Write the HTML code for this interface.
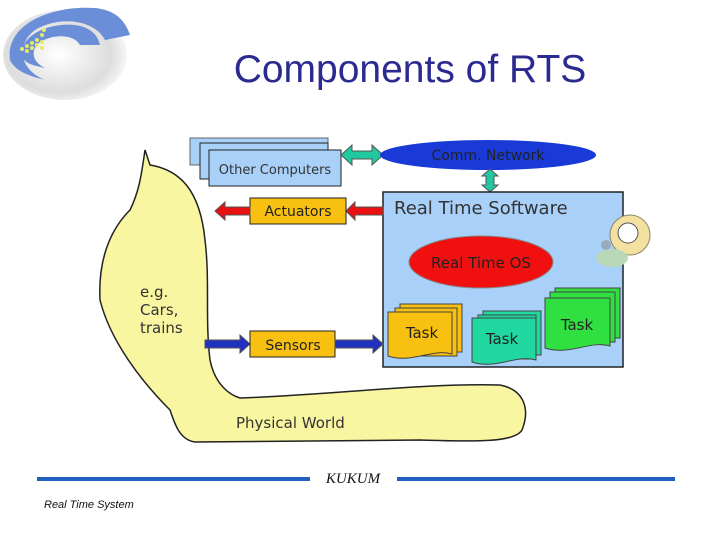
<!DOCTYPE html>
<html><head><meta charset="utf-8"><style>
html,body{margin:0;padding:0;background:#fff;width:720px;height:540px;overflow:hidden}
svg{display:block}
text{font-family:"DejaVu Sans","Liberation Sans",sans-serif}
</style></head><body>
<svg width="720" height="540" viewBox="0 0 720 540" xmlns="http://www.w3.org/2000/svg">
<defs>
<radialGradient id="lg" cx="0.45" cy="0.5" r="0.6"><stop offset="0" stop-color="#fff"/><stop offset="0.7" stop-color="#ddd"/><stop offset="1" stop-color="#fff"/></radialGradient>
</defs>
<!-- logo -->
<ellipse cx="65" cy="55" rx="62" ry="45" fill="url(#lg)"/>
<path d="M10,60 C5,25 50,5 95,8 C115,10 125,20 130,35 L105,40 C95,20 60,15 35,30 C15,45 20,70 45,80 C25,75 15,70 10,60Z" fill="#6a8fd8"/>
<path d="M22,55 C20,35 50,22 75,25 C90,27 98,35 100,45 L80,45 C75,35 55,33 40,42 C30,50 32,62 45,68 C30,65 23,62 22,55Z" fill="#6a8fd8"/>
<g fill="#e8e86a"><circle cx="22" cy="49" r="2"/><circle cx="27" cy="46" r="2"/><circle cx="32" cy="43" r="2"/><circle cx="37" cy="40" r="2"/><circle cx="42" cy="35" r="2"/><circle cx="27" cy="51" r="2"/><circle cx="32" cy="48" r="2"/><circle cx="37" cy="45" r="2"/><circle cx="42" cy="42" r="2"/><circle cx="42" cy="48" r="2"/><circle cx="44" cy="30" r="2"/></g>
<text x="410" y="82" font-size="39" text-anchor="middle" fill="#2a2a90" style="font-family:'Liberation Sans',sans-serif">Components of RTS</text>
<!-- yellow world -->
<path d="M145,150 L150,165 C180,170 200,190 205,240 C210,280 205,320 210,360 C215,385 230,395 240,398 C330,395 420,383 500,385 C525,390 530,410 522,430 C515,442 480,442 420,440 L195,442 C180,440 175,425 170,410 C140,380 110,340 100,300 C98,260 110,230 130,210 C140,190 142,170 145,150Z" fill="#f8f6a0" stroke="#222" stroke-width="1.5"/>
<text x="140" y="297" font-size="15" fill="#333">e.g.</text>
<text x="140" y="315" font-size="15" fill="#333">Cars,</text>
<text x="140" y="333" font-size="15" fill="#333">trains</text>
<text x="236" y="428" font-size="15" fill="#333">Physical World</text>
<!-- other computers -->
<rect x="190" y="138" width="138" height="27" fill="#a8d0f8" stroke="#666"/>
<rect x="200" y="143" width="128" height="36" fill="#a8d0f8" stroke="#222"/>
<rect x="209" y="150" width="132" height="36" fill="#a8d0f8" stroke="#222"/>
<text x="275" y="174" font-size="13" text-anchor="middle" fill="#333">Other Computers</text>
<!-- horizontal green double arrow -->
<path d="M341,155 L352,145 L352,151 L372,151 L372,145 L383,155 L372,165 L372,159 L352,159 L352,165Z" fill="#22c8a0" stroke="#555"/>
<ellipse cx="488" cy="155" rx="108" ry="15" fill="#1a3ad8"/>
<text x="488" y="160" font-size="14" text-anchor="middle" fill="#222">Comm. Network</text>
<!-- vertical green double arrow -->
<path d="M490,169 L498,176 L494,176 L494,185 L498,185 L490,192 L482,185 L486,185 L486,176 L482,176Z" fill="#22c8a0" stroke="#555"/>
<!-- RTS box -->
<rect x="383" y="192" width="240" height="175" fill="#a8d0f8" stroke="#222" stroke-width="1.5"/>
<text x="394" y="214" font-size="18" fill="#333">Real Time Software</text>
<ellipse cx="481" cy="262" rx="72" ry="26" fill="#f01010" stroke="#888"/>
<text x="481" y="268" font-size="15" text-anchor="middle" fill="#222">Real Time OS</text>
<!-- tasks -->
<g stroke="#444">
<path d="M400,304 h62 v48 h-62z" fill="#f8c010"/>
<path d="M395,308 h62 v48 h-62z" fill="#f8c010"/>
<path d="M388,312 h64 v42 c-20,-6 -40,10 -64,2z" fill="#f8c010"/>
<path d="M483,311 h58 v44 h-58z" fill="#20d8a0"/>
<path d="M478,315 h58 v44 h-58z" fill="#20d8a0"/>
<path d="M472,318 h64 v42 c-20,-6 -40,10 -64,2z" fill="#20d8a0"/>
<path d="M555,288 h65 v50 h-65z" fill="#30e040"/>
<path d="M550,292 h65 v50 h-65z" fill="#30e040"/>
<path d="M545,298 h65 v48 c-20,-6 -40,10 -65,2z" fill="#30e040"/>
</g>
<text x="422" y="338" font-size="15" text-anchor="middle" fill="#222">Task</text>
<text x="502" y="344" font-size="15" text-anchor="middle" fill="#222">Task</text>
<text x="577" y="330" font-size="15" text-anchor="middle" fill="#222">Task</text>
<!-- clip art -->
<circle cx="630" cy="235" r="20" fill="#f4e0a0" stroke="#886" />
<circle cx="628" cy="233" r="10" fill="#fff" stroke="#555"/>
<ellipse cx="612" cy="258" rx="16" ry="9" fill="#b8d8b8"/>
<circle cx="606" cy="245" r="5" fill="#9ab" />
<!-- actuators -->
<path d="M383,207 L355,207 L355,202 L346,211 L355,220 L355,215 L383,215Z" fill="#e81010" stroke="#555"/>
<rect x="250" y="198" width="96" height="26" fill="#f8c010" stroke="#222"/>
<text x="298" y="216" font-size="14" text-anchor="middle" fill="#222">Actuators</text>
<path d="M250,207 L225,207 L225,202 L215,211 L225,220 L225,215 L250,215Z" fill="#e81010" stroke="#555"/>
<!-- sensors -->
<path d="M205,340 L240,340 L240,335 L250,344 L240,353 L240,348 L205,348Z" fill="#2030c0" stroke="#555"/>
<rect x="250" y="331" width="85" height="26" fill="#f8c010" stroke="#222"/>
<text x="293" y="350" font-size="14" text-anchor="middle" fill="#222">Sensors</text>
<path d="M335,340 L373,340 L373,335 L383,344 L373,353 L373,348 L335,348Z" fill="#2030c0" stroke="#555"/>
<!-- footer -->
<rect x="37" y="477" width="273" height="4" fill="#1f5fc0"/>
<rect x="397" y="477" width="278" height="4" fill="#1f5fc0"/>
<text x="353" y="483" style="font-family:'Liberation Serif',serif" font-style="italic" font-size="15" text-anchor="middle" fill="#111">KUKUM</text>
<text x="44" y="508" style="font-family:'Liberation Sans',sans-serif" font-style="italic" font-size="11" fill="#111">Real Time System</text>
</svg>
</body></html>
